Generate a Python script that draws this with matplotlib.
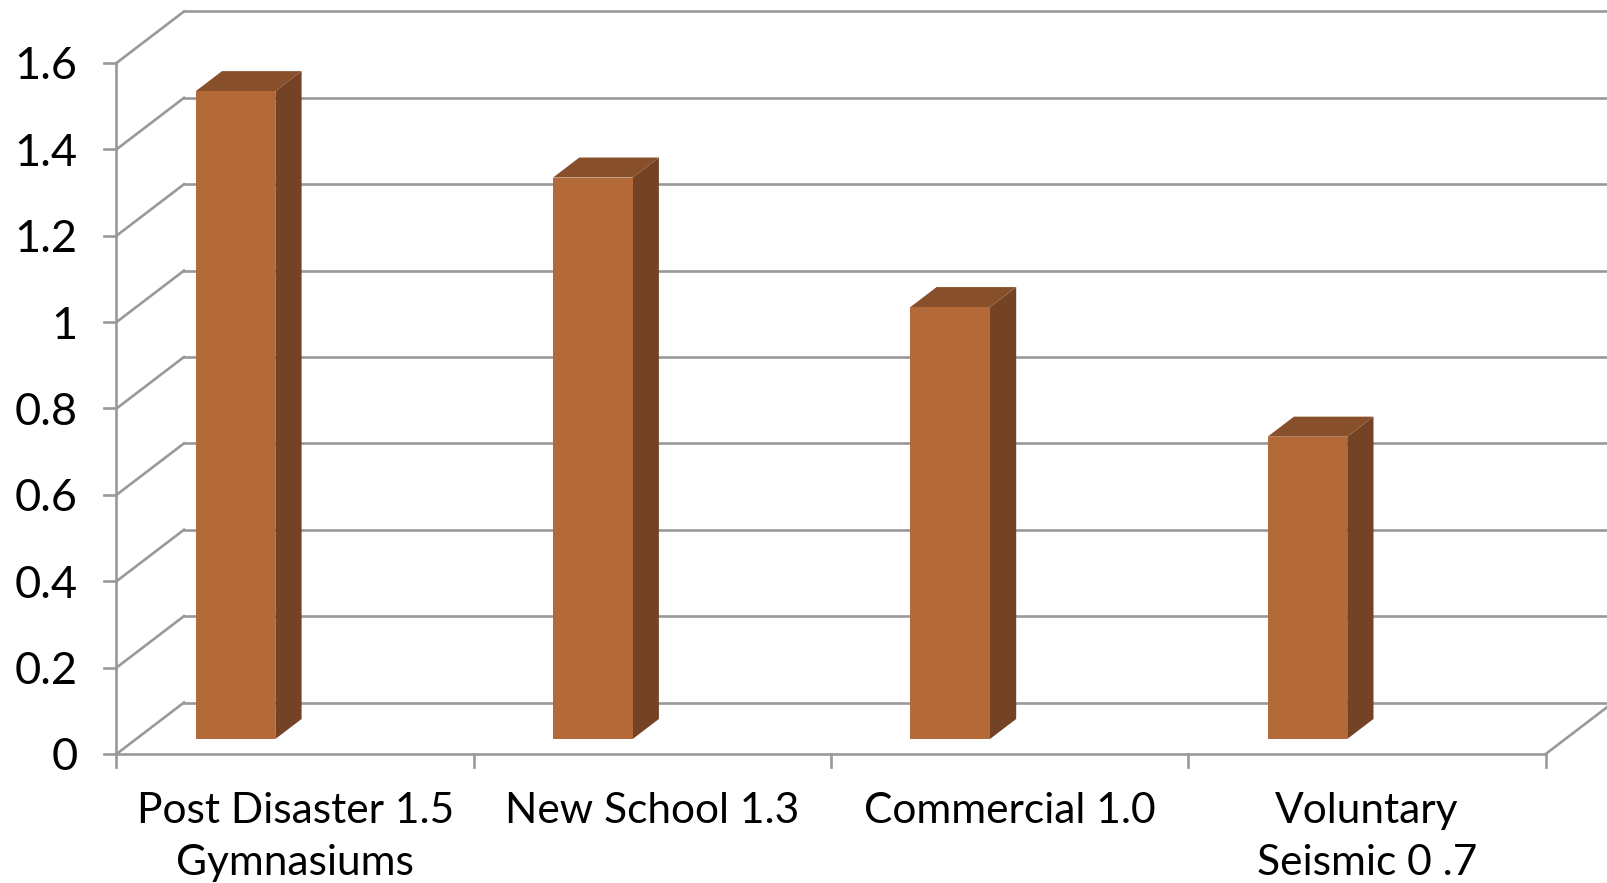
import matplotlib
matplotlib.use("Agg")
import matplotlib.pyplot as plt
import numpy as np

categories = ["Post Disaster 1.5\nGymnasiums", "New School 1.3", "Commercial 1.0", "Voluntary\nSeismic 0 .7"]
values = [1.5, 1.3, 1.0, 0.7]
yticks = [0, 0.2, 0.4, 0.6, 0.8, 1, 1.2, 1.4, 1.6]
yticklabels = ["0", "0.2", "0.4", "0.6", "0.8", "1", "1.2", "1.4", "1.6"]

# pixel scale of the plot
W, H = 1608, 883
px_cat = 357.3
px_val = 431.9
x0_px, y0_px = 116.5, 754

# full depth of the floor in data units
depth_x = 67.5 / px_cat
depth_y = 51.5 / px_val

bar_left = 59.6 / px_cat
bar_width = 79.6 / px_cat
d_front = 0.291
d_back = 0.68

grey = "#999999"
c_front = "#b46a38"
c_side = "#744225"
c_top = "#88502a"

plt.rcParams["font.family"] = ["Lato", "DejaVu Sans"]

fig = plt.figure(figsize=(W / 100, H / 100), dpi=100)
ax = fig.add_axes([0, 0, 1, 1])
ax.set_xlim(-x0_px / px_cat, (W - x0_px) / px_cat)
ax.set_ylim(-(H - y0_px) / px_val, y0_px / px_val)
ax.axis("off")


def proj(x, y, d):
    # move a point back into the chart by depth d (0 to 1)
    return x + d * depth_x, y + d * depth_y


n = len(categories)
lw = 1.9

# back wall lines and diagonals
for v in yticks:
    xa, ya = proj(0, v, 0)
    xb, yb = proj(0, v, 1)
    ax.plot([xa, xb], [ya, yb], color=grey, lw=lw, zorder=1)
    ax.plot([xb, n + depth_x], [yb, yb], color=grey, lw=lw, zorder=1)
    ax.plot([-12 / px_cat, 0], [v, v], color=grey, lw=lw, zorder=1)

ax.plot([0, 0], [0, yticks[-1]], color=grey, lw=lw, zorder=1)
ax.plot([0, n], [0, 0], color=grey, lw=lw, zorder=1)
xr, yr = proj(n, 0, 1)
ax.plot([n, xr], [0, yr], color=grey, lw=lw, zorder=1)
for i in range(n + 1):
    ax.plot([i, i], [0, -13 / px_val], color=grey, lw=lw, zorder=1)

# bars as three faces
for i, v in enumerate(values):
    l = i + bar_left
    r = l + bar_width
    fl, fb = proj(l, 0, d_front)
    fr, ft = proj(r, v, d_front)
    bl, bb = proj(l, 0, d_back)
    br, bt = proj(r, v, d_back)
    bb_r = proj(r, 0, d_back)[1]
    ax.fill([fr, br, br, fr], [fb, bb_r, bt, ft], color=c_side, lw=0, zorder=3)
    ax.fill([fl, fr, br, bl], [ft, ft, bt, bt], color=c_top, lw=0, zorder=3)
    ax.fill([fl, fr, fr, fl], [fb, fb, ft, ft], color=c_front, lw=0, zorder=4)

for v, lab in zip(yticks, yticklabels):
    ax.text(-39 / px_cat, v, lab, ha="right", va="center_baseline", fontsize=32.5, color="black")

for i, lab in enumerate(categories):
    ax.text(i + 0.5, -38 / px_val, lab, ha="center", va="top", fontsize=30.6,
            color="black", linespacing=1.46)

fig.savefig("out.png", dpi=100)
print("done")
